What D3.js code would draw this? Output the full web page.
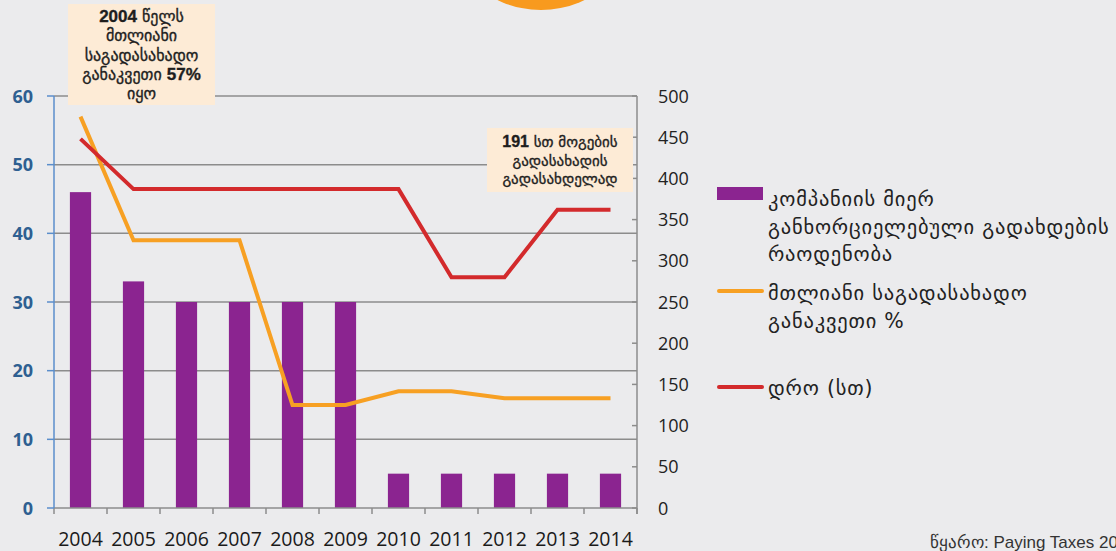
<!DOCTYPE html>
<html>
<head>
<meta charset="utf-8">
<script src="https://cdnjs.cloudflare.com/ajax/libs/d3/7.8.5/d3.min.js"></script>
<style>
  body { margin: 0; background: #ebebed; }
  svg { display: block; }
</style>
</head>
<body>
<script>
// data
const years = ["2004","2005","2006","2007","2008","2009","2010","2011","2012","2013","2014"];
const payments = [46, 33, 30, 30, 30, 30, 5, 5, 5, 5, 5];          // left axis, bars
const taxRate = [57, 39, 39, 39, 15, 15, 17, 17, 16, 16, 16];      // left axis, orange line (%)
const hours = [448, 387, 387, 387, 387, 387, 387, 280, 280, 362, 362]; // right axis, red line
const leftTicks = [0, 10, 20, 30, 40, 50, 60];
const rightTicks = [0, 50, 100, 150, 200, 250, 300, 350, 400, 450, 500];

const legendItems = [
  { type: "rect", color: "#8b2490", lines: ["კომპანიის მიერ", "განხორციელებული გადახდების", "რაოდენობა"] },
  { type: "line", color: "#f7a023", lines: ["მთლიანი საგადასახადო", "განაკვეთი %"] },
  { type: "line", color: "#d32a2c", lines: ["დრო (სთ)"] }
];

const W = 1116, H = 551;
const plotL = 54, plotR = 637, plotT = 96, plotB = 508;

const svg = d3.select("body").append("svg")
  .attr("width", W).attr("height", H)
  .style("font-family", "'Open Sans', sans-serif");

svg.append("rect").attr("width", W).attr("height", H).attr("fill", "#ebebed");

// orange disc peeking in from the top
svg.append("circle").attr("cx", 541).attr("cy", -90).attr("r", 100).attr("fill", "#f89a1e");

const x = d3.scaleBand().domain(years).range([plotL, plotR]).paddingInner(0.6).paddingOuter(0.3);
const yL = d3.scaleLinear().domain([0, 60]).range([plotB, plotT]);
const yR = d3.scaleLinear().domain([0, 500]).range([plotB, plotT]);

// gridlines
svg.append("g").selectAll("line").data(leftTicks.filter(d => d > 0)).join("line")
  .attr("x1", plotL).attr("x2", plotR)
  .attr("y1", d => yL(d)).attr("y2", d => yL(d))
  .attr("stroke", "#8c8c8c").attr("stroke-width", 1.5);

// bars
svg.append("g").selectAll("rect").data(payments).join("rect")
  .attr("x", (d, i) => x(years[i]))
  .attr("width", x.bandwidth())
  .attr("y", d => yL(d))
  .attr("height", d => plotB - yL(d))
  .attr("fill", "#8b2490");

// x axis baseline + ticks at band edges
svg.append("line").attr("x1", plotL).attr("x2", plotR).attr("y1", plotB).attr("y2", plotB)
  .attr("stroke", "#8c8c8c").attr("stroke-width", 1.5);
const step = x.step();
svg.append("g").selectAll("line").data(d3.range(years.length + 1)).join("line")
  .attr("x1", i => plotL + i * step).attr("x2", i => plotL + i * step)
  .attr("y1", plotB).attr("y2", plotB + 6)
  .attr("stroke", "#8c8c8c").attr("stroke-width", 1.5);
svg.append("g").selectAll("text").data(years).join("text")
  .attr("x", d => x(d) + x.bandwidth() / 2)
  .attr("y", 546)
  .attr("text-anchor", "middle")
  .attr("font-size", 19.5)
  .attr("fill", "#1a1a1a")
  .text(d => d);

// left axis
const gL = svg.append("g");
gL.append("line").attr("x1", plotL).attr("x2", plotL).attr("y1", plotT).attr("y2", plotB)
  .attr("stroke", "#5b8ecb").attr("stroke-width", 1.5);
gL.selectAll(".tk").data(leftTicks).join("line")
  .attr("x1", plotL - 7).attr("x2", plotL).attr("y1", d => yL(d)).attr("y2", d => yL(d))
  .attr("stroke", "#5b8ecb").attr("stroke-width", 1.5);
gL.selectAll("text").data(leftTicks).join("text")
  .attr("x", 33).attr("y", d => yL(d) + 6.5)
  .attr("text-anchor", "end")
  .attr("font-size", 18).attr("font-weight", "bold")
  .attr("fill", "#2e5f91")
  .text(d => d);

// right axis
const gR = svg.append("g");
gR.append("line").attr("x1", plotR).attr("x2", plotR).attr("y1", plotT).attr("y2", plotB + 6)
  .attr("stroke", "#8c8c8c").attr("stroke-width", 1.5);
gR.selectAll(".tk").data(rightTicks).join("line")
  .attr("x1", plotR - 5).attr("x2", plotR).attr("y1", d => yR(d)).attr("y2", d => yR(d))
  .attr("stroke", "#8c8c8c").attr("stroke-width", 1.5);
gR.selectAll("text").data(rightTicks).join("text")
  .attr("x", 658).attr("y", d => yR(d) + 6.5)
  .attr("font-size", 18)
  .attr("fill", "#222")
  .text(d => d);

// lines
const cx = d => x(d) + x.bandwidth() / 2;
svg.append("path")
  .datum(taxRate)
  .attr("d", d3.line().x((d, i) => cx(years[i])).y(d => yL(d)))
  .attr("fill", "none").attr("stroke", "#f7a023").attr("stroke-width", 4);
svg.append("path")
  .datum(hours)
  .attr("d", d3.line().x((d, i) => cx(years[i])).y(d => yR(d)))
  .attr("fill", "none").attr("stroke", "#d32a2c").attr("stroke-width", 4);

// annotation boxes
function note(x0, y0, w, h, lines, cxp, y1, lh, fs) {
  const g = svg.append("g");
  g.append("rect").attr("x", x0).attr("y", y0).attr("width", w).attr("height", h).attr("fill", "#fdebd6");
  const t = g.append("text").attr("text-anchor", "middle").attr("font-size", fs)
    .attr("font-family", "'DejaVu Sans', sans-serif").attr("fill", "#1e1e1e")
    .attr("stroke", "#1e1e1e").attr("stroke-width", 0.35);
  lines.forEach((ln, i) => {
    const tl = t.append("tspan").attr("x", cxp).attr("y", y1 + i * lh);
    ln.forEach(part => {
      tl.append("tspan").attr("font-weight", part.b ? "bold" : "normal")
        .attr("font-family", part.b ? "'Liberation Sans', sans-serif" : null)
        .attr("font-size", part.b ? fs + 1 : null)
        .text(part.t);
    });
  });
}
note(68, 4, 147, 101, [
  [{ t: "2004", b: true }, { t: " წელს" }],
  [{ t: "მთლიანი" }],
  [{ t: "საგადასახადო" }],
  [{ t: "განაკვეთი " }, { t: "57%", b: true }],
  [{ t: "იყო" }]
], 141.5, 22, 19.3, 16);
note(487, 128, 146, 64, [
  [{ t: "191", b: true }, { t: " სთ მოგების" }],
  [{ t: "გადასახადის" }],
  [{ t: "გადასახდელად" }]
], 560, 147, 18.5, 15);

// legend
const lg = svg.append("g").attr("font-family", "'DejaVu Sans', sans-serif")
  .attr("font-size", 20.5).attr("letter-spacing", 0.8).attr("fill", "#222");
const markerY = [193, 291, 387];
const textY = [206, 300, 395];
legendItems.forEach((it, i) => {
  const y0 = markerY[i];
  if (it.type === "rect") {
    lg.append("rect").attr("x", 717).attr("y", y0 - 6).attr("width", 46).attr("height", 13).attr("fill", it.color);
  } else {
    lg.append("line").attr("x1", 719).attr("x2", 762).attr("y1", y0).attr("y2", y0)
      .attr("stroke", it.color).attr("stroke-width", 4).attr("stroke-linecap", "round");
  }
  it.lines.forEach((ln, j) => {
    lg.append("text").attr("x", 768).attr("y", textY[i] + j * 27.5).text(ln);
  });
});

// source
svg.append("text").attr("x", 930).attr("y", 548).attr("font-size", 17)
  .attr("font-family", "'Liberation Sans', sans-serif").attr("fill", "#333")
  .text("წყარო: Paying Taxes 2015");
</script>
</body>
</html>
